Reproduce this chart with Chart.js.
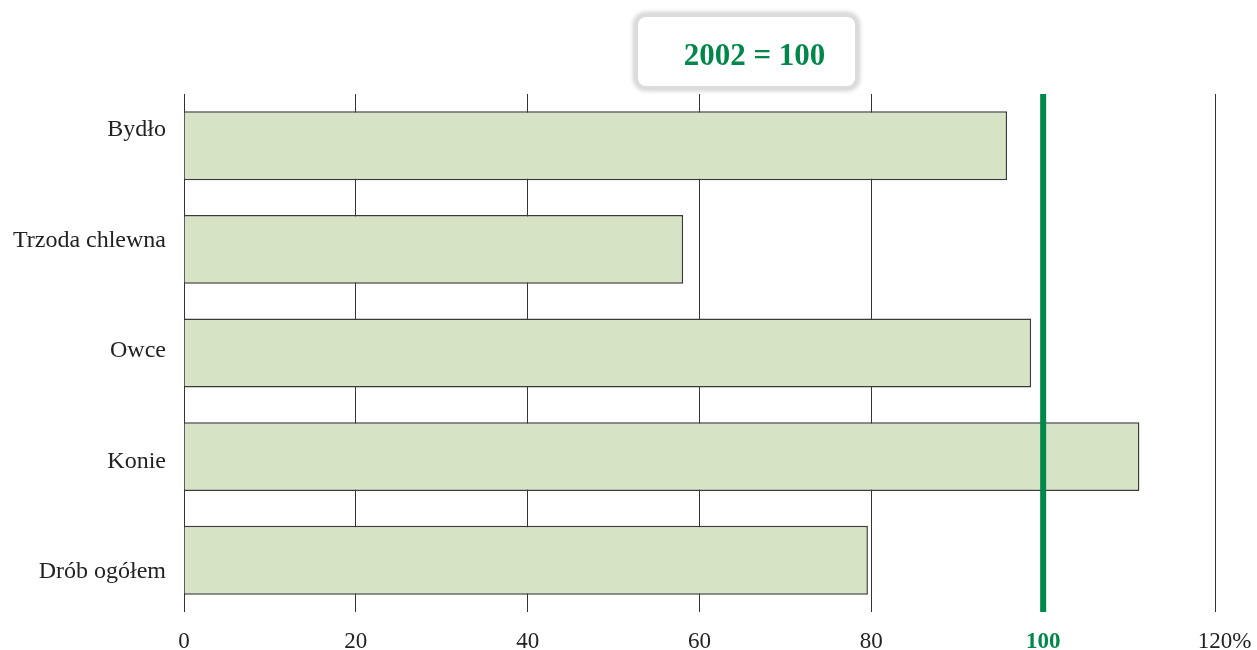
<!DOCTYPE html>
<html>
<head>
<meta charset="utf-8">
<script src="https://cdn.jsdelivr.net/npm/chart.js@4"></script>
<style>
  html, body { margin: 0; padding: 0; background: #fff; }
  #wrap { position: relative; width: 1257px; height: 650px; }
  #badge {
    position: absolute; left: 635px; top: 14px; width: 223px; height: 75px;
    border: 3px solid #dcdcdc; border-radius: 11px; background: #fff;
    box-shadow: 0 0 4px 2px rgba(0,0,0,0.18);
    font: bold 31px "Liberation Serif", serif; color: #00874a;
    display: flex; align-items: center; justify-content: center; padding-left: 16px; padding-top: 6px; box-sizing: border-box;
  }
</style>
</head>
<body>
<div id="wrap">
  <canvas id="chart" width="1257" height="650"></canvas>
  <div id="badge">2002 = 100</div>
</div>
<script>
// dane
const categories = ['Bydło', 'Trzoda chlewna', 'Owce', 'Konie', 'Drób ogółem'];
const values = [95.8, 58.1, 98.6, 111.2, 79.6];
const xTicks = [0, 20, 40, 60, 80, 100, 120];
const refValue = 100;

const green = '#00874a';
const serif = '"Liberation Serif", "Times New Roman", serif';

// linia odniesienia 100 + etykiety kategorii + znak %
const extras = {
    id: 'extras',
    afterDatasetsDraw(chart) {
        const ctx = chart.ctx;
        const area = chart.chartArea;
        const xs = chart.scales.x;
        const x = xs.getPixelForValue(refValue);
        ctx.save();
        ctx.strokeStyle = green;
        ctx.lineWidth = 6;
        ctx.beginPath();
        ctx.moveTo(x, area.top);
        ctx.lineTo(x, area.bottom);
        ctx.stroke();

        ctx.fillStyle = '#222';
        ctx.font = '24px ' + serif;
        ctx.textAlign = 'right';
        ctx.textBaseline = 'alphabetic';
        categories.forEach((c, i) => {
            ctx.fillText(c, area.left - 18, area.top + 42 + i * 110.5);
        });
        ctx.restore();
    },
    afterDraw(chart) {
        // "%" doklejony za ostatnią etykietą osi
        const ctx = chart.ctx;
        const xs = chart.scales.x;
        const last = xTicks[xTicks.length - 1];
        ctx.save();
        ctx.font = '23px ' + serif;
        const w = ctx.measureText(String(last)).width;
        ctx.fillStyle = '#222';
        ctx.textAlign = 'left';
        ctx.textBaseline = 'alphabetic';
        ctx.fillText('%', xs.getPixelForValue(last) + w / 2, 648);
        ctx.restore();
    }
};

new Chart(document.getElementById('chart'), {
    type: 'bar',
    data: {
        labels: categories,
        datasets: [{
            data: values,
            backgroundColor: '#d6e3c5',
            borderColor: '#3a3a3a',
            borderWidth: 1.5,
            barPercentage: 0.665,
            categoryPercentage: 1
        }]
    },
    options: {
        indexAxis: 'y',
        responsive: false,
        animation: false,
        layout: { padding: { top: 94, right: 42, left: 0, bottom: 0 } },
        plugins: { legend: { display: false }, tooltip: { enabled: false } },
        scales: {
            x: {
                min: 0, max: 120,
                afterBuildTicks: s => { s.ticks = xTicks.map(v => ({ value: v })); },
                afterFit: s => { s.height = 38; },
                grid: { color: '#333', lineWidth: 1, drawTicks: false },
                border: { display: false },
                ticks: {
                    padding: 16,
                    callback: v => String(v),
                    color: c => c.tick.value === refValue ? green : '#222',
                    font: c => ({ family: serif, size: 23, weight: c.tick && c.tick.value === refValue ? 'bold' : 'normal' })
                }
            },
            y: {
                afterFit: s => { s.width = 184; },
                grid: { display: false },
                border: { display: false },
                ticks: { display: false }
            }
        }
    },
    plugins: [extras]
});
</script>
</body>
</html>
